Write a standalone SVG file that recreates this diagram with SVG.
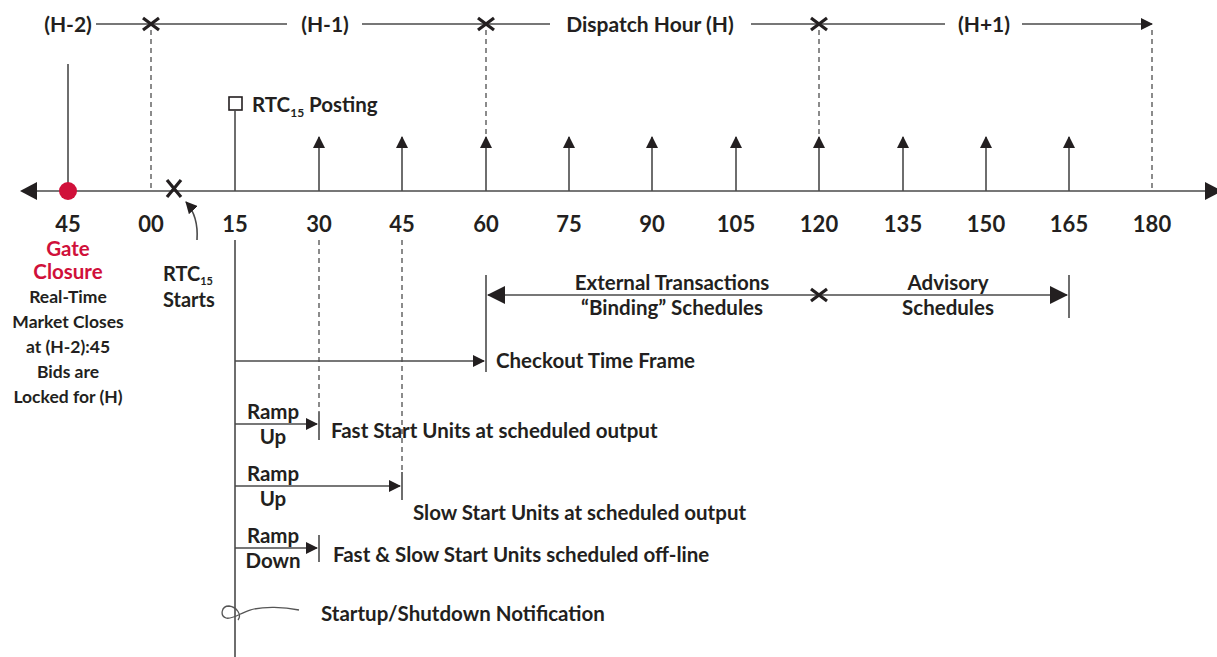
<svg xmlns="http://www.w3.org/2000/svg" width="1217" height="657" viewBox="0 0 1217 657">
  <defs>
    <marker id="ah" markerWidth="12" markerHeight="12" refX="11" refY="6" orient="auto" markerUnits="userSpaceOnUse">
      <path d="M0,0 L12,6 L0,12 Z" fill="#231f20"/>
    </marker>
    <marker id="ahs" markerWidth="12" markerHeight="12" refX="11" refY="6" orient="auto" markerUnits="userSpaceOnUse">
      <path d="M0,0 L12,6 L0,12 Z" fill="#231f20"/>
    </marker>
    <marker id="ahl" markerWidth="18" markerHeight="18" refX="17" refY="9" orient="auto" markerUnits="userSpaceOnUse">
      <path d="M0,0 L18,9 L0,18 Z" fill="#231f20"/>
    </marker>
  </defs>
  <style>
    .ln { stroke: #4a4a4a; stroke-width: 1.6; fill: none; }
    .dash { stroke: #666; stroke-width: 1.5; stroke-dasharray: 5 4; fill: none; }
    .t { font-family: Lato, "Open Sans", sans-serif; font-weight: bold; fill: #231f20; }
    .hdr { font-size: 21px; text-anchor: middle; }
    .num { font-size: 22px; text-anchor: middle; }
    .lbl { font-size: 20.5px; }
    .mid { text-anchor: middle; }
    .red { fill: #d0103a; }
    .xm { stroke: #231f20; stroke-width: 3.2; }
  </style>
  <rect width="1217" height="657" fill="#fff"/>

  <!-- hour bands along the top -->
  <g id="hours">
    <line class="ln" x1="96" y1="24" x2="287" y2="24"/>
    <line class="ln" x1="362" y1="24" x2="550" y2="24"/>
    <line class="ln" x1="751" y1="24" x2="945" y2="24"/>
    <line class="ln" x1="1022" y1="24" x2="1152" y2="24" marker-end="url(#ah)"/>
    <text class="t hdr" x="68" y="32">(H-2)</text>
    <text class="t hdr" x="325" y="32">(H-1)</text>
    <text class="t hdr" x="650" y="32">Dispatch Hour (H)</text>
    <text class="t hdr" x="984" y="32">(H+1)</text>
    <path class="xm" d="M143,18 L159,30 M143,30 L159,18"/>
    <path class="xm" d="M478,18 L494,30 M478,30 L494,18"/>
    <path class="xm" d="M811,18 L827,30 M811,30 L827,18"/>
    <line class="dash" x1="151" y1="30" x2="151" y2="191"/>
    <line class="dash" x1="486" y1="30" x2="486" y2="140"/>
    <line class="dash" x1="819" y1="30" x2="819" y2="140"/>
    <line class="dash" x1="1152" y1="30" x2="1152" y2="191"/>
  </g>

  <!-- main time axis -->
  <g id="axis">
    <line class="ln" x1="24" y1="191" x2="1210" y2="191"/>
    <path d="M20,191 L37,182 L37,200 Z" fill="#231f20"/>
    <path d="M1205,182 L1222,191 L1205,200 Z" fill="#231f20"/>
    <g id="ticks">
      <line class="ln" x1="319" y1="191" x2="319" y2="137" marker-end="url(#ahs)"/>
      <line class="ln" x1="402" y1="191" x2="402" y2="137" marker-end="url(#ahs)"/>
      <line class="ln" x1="486" y1="191" x2="486" y2="137" marker-end="url(#ahs)"/>
      <line class="ln" x1="569" y1="191" x2="569" y2="137" marker-end="url(#ahs)"/>
      <line class="ln" x1="652" y1="191" x2="652" y2="137" marker-end="url(#ahs)"/>
      <line class="ln" x1="736" y1="191" x2="736" y2="137" marker-end="url(#ahs)"/>
      <line class="ln" x1="819" y1="191" x2="819" y2="137" marker-end="url(#ahs)"/>
      <line class="ln" x1="903" y1="191" x2="903" y2="137" marker-end="url(#ahs)"/>
      <line class="ln" x1="986" y1="191" x2="986" y2="137" marker-end="url(#ahs)"/>
      <line class="ln" x1="1069" y1="191" x2="1069" y2="137" marker-end="url(#ahs)"/>
    </g>
    <g id="numbers">
      <text class="t num" x="68" y="232">45</text>
      <text class="t num" x="151" y="232">00</text>
      <text class="t num" x="235" y="232">15</text>
      <text class="t num" x="319" y="232">30</text>
      <text class="t num" x="402" y="232">45</text>
      <text class="t num" x="486" y="232">60</text>
      <text class="t num" x="569" y="232">75</text>
      <text class="t num" x="652" y="232">90</text>
      <text class="t num" x="736" y="232">105</text>
      <text class="t num" x="819" y="232">120</text>
      <text class="t num" x="903" y="232">135</text>
      <text class="t num" x="986" y="232">150</text>
      <text class="t num" x="1069" y="232">165</text>
      <text class="t num" x="1152" y="232">180</text>
    </g>
  </g>

  <!-- gate closure -->
  <g id="gate-closure">
    <line class="ln" x1="68" y1="64" x2="68" y2="191"/>
    <circle cx="68" cy="191" r="9" fill="#d0103a"/>
    <text class="t mid red" font-size="20.5" x="68" y="256">Gate</text>
    <text class="t mid red" font-size="20.5" x="68" y="279">Closure</text>
    <text class="t mid" font-size="17.5" x="68" y="303">Real-Time</text>
    <text class="t mid" font-size="17.5" x="68" y="328">Market Closes</text>
    <text class="t mid" font-size="17.5" x="68" y="353">at (H-2):45</text>
    <text class="t mid" font-size="17.5" x="68" y="378">Bids are</text>
    <text class="t mid" font-size="17.5" x="68" y="403">Locked for (H)</text>
  </g>

  <!-- RTC15 start -->
  <g id="rtc-start">
    <path class="xm" d="M167,180 L181,197 M181,180 L167,197" stroke-width="3.6"/>
    <path class="ln" d="M197,240 C198,225 195,212 186,202" marker-end="url(#ahs)"/>
    <text class="t" font-size="20" x="163" y="281">RTC<tspan font-size="11" dy="4">15</tspan></text>
    <text class="t" font-size="20" x="163" y="307">Starts</text>
  </g>

  <!-- RTC15 posting -->
  <g id="rtc-posting">
    <rect x="229" y="97" width="13" height="13" fill="#fff" stroke="#231f20" stroke-width="1.6"/>
    <line class="ln" x1="235" y1="110" x2="235" y2="191"/>
    <text class="t lbl" x="252" y="112">RTC<tspan font-size="12" dy="5">15</tspan><tspan dy="-5"> Posting</tspan></text>
  </g>

  <!-- schedule spans -->
  <g id="schedules">
    <line class="ln" x1="486" y1="275" x2="486" y2="372"/>
    <line class="ln" x1="1069" y1="275" x2="1069" y2="318"/>
    <line class="ln" x1="660" y1="295" x2="488" y2="295" marker-end="url(#ahl)"/>
    <line class="ln" x1="660" y1="295" x2="1067" y2="295" marker-end="url(#ahl)"/>
    <path class="xm" d="M811,289 L827,301 M811,301 L827,289"/>
    <text class="t lbl mid" x="672" y="290">External Transactions</text>
    <text class="t lbl mid" x="672" y="315">“Binding” Schedules</text>
    <text class="t lbl mid" x="948" y="290">Advisory</text>
    <text class="t lbl mid" x="948" y="315">Schedules</text>
  </g>

  <!-- RTC15 run timeline -->
  <g id="rtc-run">
    <line class="ln" x1="235" y1="240" x2="235" y2="657"/>
    <line class="dash" x1="319" y1="240" x2="319" y2="412"/>
    <line class="dash" x1="402" y1="240" x2="402" y2="472"/>
  </g>

  <g id="checkout">
    <line class="ln" x1="235" y1="361" x2="484" y2="361" marker-end="url(#ahs)"/>
    <text class="t lbl" x="496" y="368">Checkout Time Frame</text>
  </g>

  <g id="fast-start">
    <line class="ln" x1="235" y1="424" x2="317" y2="424" marker-end="url(#ahs)"/>
    <line class="ln" x1="319" y1="412" x2="319" y2="440"/>
    <text class="t lbl mid" x="273" y="419">Ramp</text>
    <text class="t lbl mid" x="273" y="444">Up</text>
    <text class="t lbl" x="331" y="438">Fast Start Units at scheduled output</text>
  </g>

  <g id="slow-start">
    <line class="ln" x1="235" y1="486" x2="400" y2="486" marker-end="url(#ahs)"/>
    <line class="ln" x1="402" y1="472" x2="402" y2="500"/>
    <text class="t lbl mid" x="273" y="481">Ramp</text>
    <text class="t lbl mid" x="273" y="506">Up</text>
    <text class="t lbl" x="413" y="520">Slow Start Units at scheduled output</text>
  </g>

  <g id="off-line">
    <line class="ln" x1="235" y1="548" x2="317" y2="548" marker-end="url(#ahs)"/>
    <line class="ln" x1="319" y1="535" x2="319" y2="562"/>
    <text class="t lbl mid" x="273" y="543">Ramp</text>
    <text class="t lbl mid" x="273" y="568">Down</text>
    <text class="t lbl" x="333" y="562">Fast &amp; Slow Start Units scheduled off-line</text>
  </g>

  <g id="notification">
    <path d="M299,610 C284,607 264,606 250,610 C240,613 232,620 226,618 C220,616 221,606 229,606 C237,607 242,615 238,620" fill="none" stroke="#555" stroke-width="1.3"/>
    <text class="t lbl" x="321" y="621">Startup/Shutdown Notification</text>
  </g>
</svg>
